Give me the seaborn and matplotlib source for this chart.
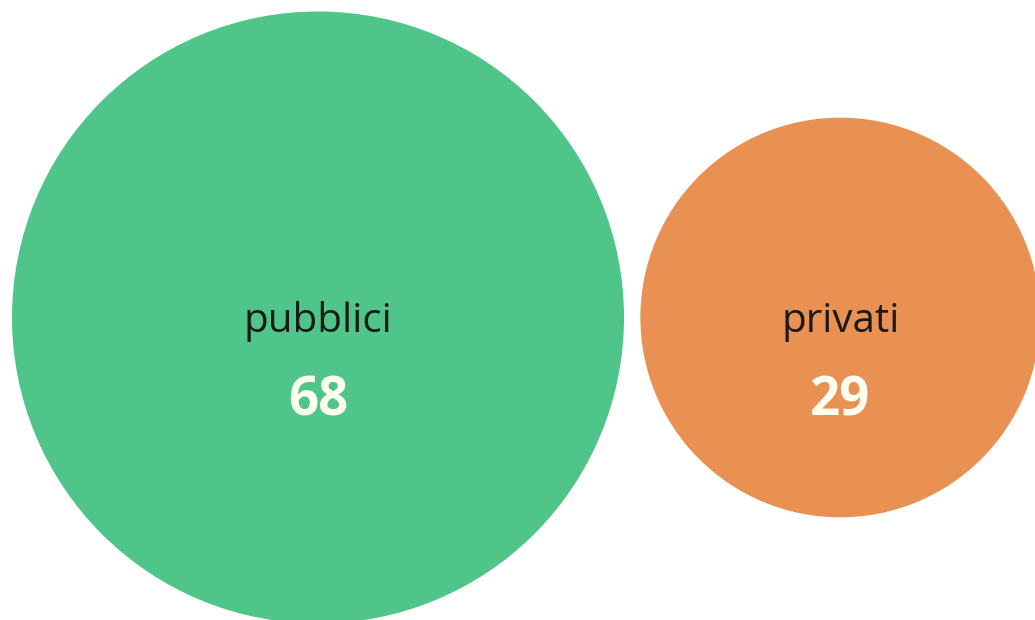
"""Bolle proporzionali: enti pubblici e privati."""
import matplotlib.pyplot as plt
import numpy as np
import seaborn as sns
from matplotlib.patches import Circle

categorie = ["pubblici", "privati"]
valori = [68, 29]
colori = ["#4fc589", "#e89152"]

sns.set_theme(style="white")
plt.rcParams["font.family"] = ["Open Sans", "DejaVu Sans"]

fig = plt.figure(figsize=(10.35, 6.2), dpi=100)
ax = fig.add_axes([0, 0, 1, 1])

# unità dati -> pixel, area dei cerchi proporzionale al valore
scala = 37.11
raggi = np.sqrt(valori)
spazio = 0.44
margine_sx = 12 / scala
y_centro = 317.5 / scala

x = margine_sx
for cat, val, r, col in zip(categorie, valori, raggi, colori):
    cx = x + r
    ax.add_patch(Circle((cx, y_centro), r, color=col, lw=0))
    ax.annotate(cat, (cx, y_centro), xytext=(0, -10.3), textcoords="offset points",
                ha="center", va="baseline", fontsize=29, color="#1a1a1a")
    ax.annotate(str(val), (cx, y_centro), xytext=(0, -70.5), textcoords="offset points",
                ha="center", va="baseline", fontsize=38, fontweight="bold", color="#fdfdf0")
    x += 2 * r + spazio

ax.set_xlim(0, 1035 / scala)
ax.set_ylim(620 / scala, 0)
ax.axis("off")

plt.savefig("out.png", dpi=100)
plt.close()
